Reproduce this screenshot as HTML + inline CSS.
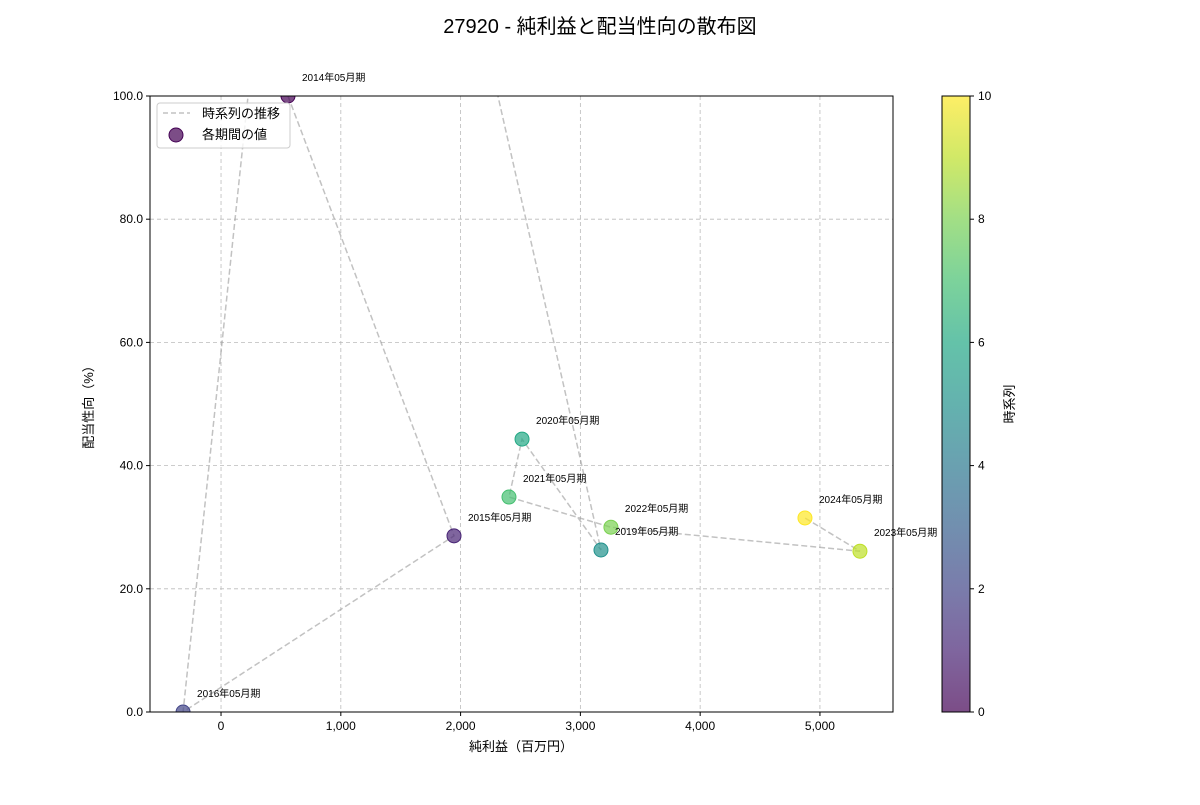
<!DOCTYPE html>
<html><head><meta charset="utf-8"><style>
body{margin:0;background:#fff}
svg text{font-family:"Liberation Sans","Noto Sans CJK JP",sans-serif}
</style></head><body>
<svg id="chart" width="1200" height="800" xmlns="http://www.w3.org/2000/svg">
<defs>
<clipPath id="clip"><rect x="150" y="96" width="743" height="616"/></clipPath>
<linearGradient id="vir" x1="0" y1="1" x2="0" y2="0">
<stop offset="0" stop-color="#440154"/><stop offset="0.1" stop-color="#482475"/><stop offset="0.2" stop-color="#414487"/><stop offset="0.3" stop-color="#355f8d"/><stop offset="0.4" stop-color="#2a788e"/><stop offset="0.5" stop-color="#21918c"/><stop offset="0.6" stop-color="#22a884"/><stop offset="0.7" stop-color="#44bf70"/><stop offset="0.8" stop-color="#7ad151"/><stop offset="0.9" stop-color="#bddf26"/><stop offset="1" stop-color="#fde725"/>
</linearGradient>
</defs>
<text x="600" y="33" text-anchor="middle" font-size="20">27920 - 純利益と配当性向の散布図</text>
<g id="grid"></g>
<g id="xticks"></g>
<g id="yticks"></g>
<g id="series" clip-path="url(#clip)"></g>
<g id="labels"></g>
<rect x="150" y="96" width="743" height="616" fill="none" stroke="#000" stroke-width="1"/>
<text x="521" y="751" text-anchor="middle" font-size="13">純利益（百万円）</text>
<text transform="translate(93,404) rotate(-90)" text-anchor="middle" font-size="13">配当性向（%）</text>
<g>
<rect x="157" y="103" width="133" height="45" rx="3" fill="#fff" fill-opacity="0.8" stroke="#ccc"/>
<line x1="163" y1="113" x2="190" y2="113" stroke="#999" stroke-opacity="0.6" stroke-width="1.5" stroke-dasharray="5,3"/>
<text x="202" y="118" font-size="13">時系列の推移</text>
<circle cx="176" cy="135" r="7" fill="#440154" fill-opacity="0.7" stroke="#440154"/>
<text x="202" y="139" font-size="13">各期間の値</text>
</g>
<g id="cbar">
<rect x="942" y="96" width="28" height="616" fill="#fff" stroke="none"/>
<rect x="942" y="96" width="28" height="616" fill="url(#vir)" opacity="0.7" stroke="none"/>
<rect x="942" y="96" width="28" height="616" fill="none" stroke="#000" stroke-width="1"/>
</g>
<text transform="translate(1014,404) rotate(-90)" text-anchor="middle" font-size="13">時系列</text>
</svg>
<script>
const periods = ["2014年05月期","2015年05月期","2016年05月期","2017年05月期","2018年05月期","2019年05月期","2020年05月期","2021年05月期","2022年05月期","2023年05月期","2024年05月期"];
const netIncome = [559,1945,-317,334,1728,3172,2513,2404,3255,5334,4875];
const payout = [100,28.6,0,120,150,26.3,44.3,34.9,30.0,26.1,31.5];
const xTicks = [0,1000,2000,3000,4000,5000];
const xTickLabels = ["0","1,000","2,000","3,000","4,000","5,000"];
const yTicks = [0,20,40,60,80,100];
const yTickLabels = ["0.0","20.0","40.0","60.0","80.0","100.0"];
const cbTicks = [0,2,4,6,8,10];

const NS="http://www.w3.org/2000/svg";
const X0=150,X1=893,Y0=712,Y1=96,XMIN=-593,XMAX=5610,YMIN=0,YMAX=100;
const xs=v=>X0+(v-XMIN)/(XMAX-XMIN)*(X1-X0);
const ys=v=>Y0-(v-YMIN)/(YMAX-YMIN)*(Y0-Y1);
const cbs=v=>712-v/10*616;
const vir=["#440154","#482475","#414487","#355f8d","#2a788e","#21918c","#22a884","#44bf70","#7ad151","#bddf26","#fde725"];
function mk(tag,attrs,parent){const e=document.createElementNS(NS,tag);for(const k in attrs)e.setAttribute(k,attrs[k]);document.getElementById(parent).appendChild(e);return e;}

xTicks.forEach((t,i)=>{
  const g=mk('line',{x1:xs(t),x2:xs(t),y1:Y1,y2:Y0,stroke:'#bbb','stroke-dasharray':'4,3','stroke-width':0.8},'grid');
  
  
  mk('line',{x1:xs(t),x2:xs(t),y1:Y0,y2:Y0+4,stroke:'#000'},'xticks');
  const tx=mk('text',{x:xs(t),y:Y0+18,'text-anchor':'middle','font-size':12},'xticks');
  tx.textContent=xTickLabels[i];
  
  
});
yTicks.forEach((t,i)=>{
  const g=mk('line',{x1:X0,x2:X1,y1:ys(t),y2:ys(t),stroke:'#bbb','stroke-dasharray':'4,3','stroke-width':0.8},'grid');
  
  
  mk('line',{x1:X0-4,x2:X0,y1:ys(t),y2:ys(t),stroke:'#000'},'yticks');
  const tx=mk('text',{x:X0-7,y:ys(t)+4,'text-anchor':'end','font-size':12},'yticks');
  tx.textContent=yTickLabels[i];
  
  
});
cbTicks.forEach(t=>{
  mk('line',{x1:970,x2:974,y1:cbs(t),y2:cbs(t),stroke:'#000'},'cbar');
  const tx=mk('text',{x:978,y:cbs(t)+4,'font-size':12},'cbar');
  tx.textContent=String(t);
  
  
});
const pts=netIncome.map((v,i)=>xs(v)+','+ys(payout[i])).join(' ');
const pl=mk('polyline',{points:pts,fill:'none',stroke:'#999','stroke-opacity':0.6,'stroke-width':1.5,'stroke-dasharray':'6,3'},'series');


netIncome.forEach((v,i)=>{
  const c=mk('circle',{cx:xs(v),cy:ys(payout[i]),r:7,fill:vir[i],'fill-opacity':0.7,stroke:vir[i],'stroke-width':1},'series');
  
  
  if(payout[i]<=YMAX && payout[i]>=YMIN){
    const t=mk('text',{x:xs(v)+14,y:ys(payout[i])-15,'font-size':10},'labels');
    t.textContent=periods[i];
    
    
  }
});
</script>
</body></html>
